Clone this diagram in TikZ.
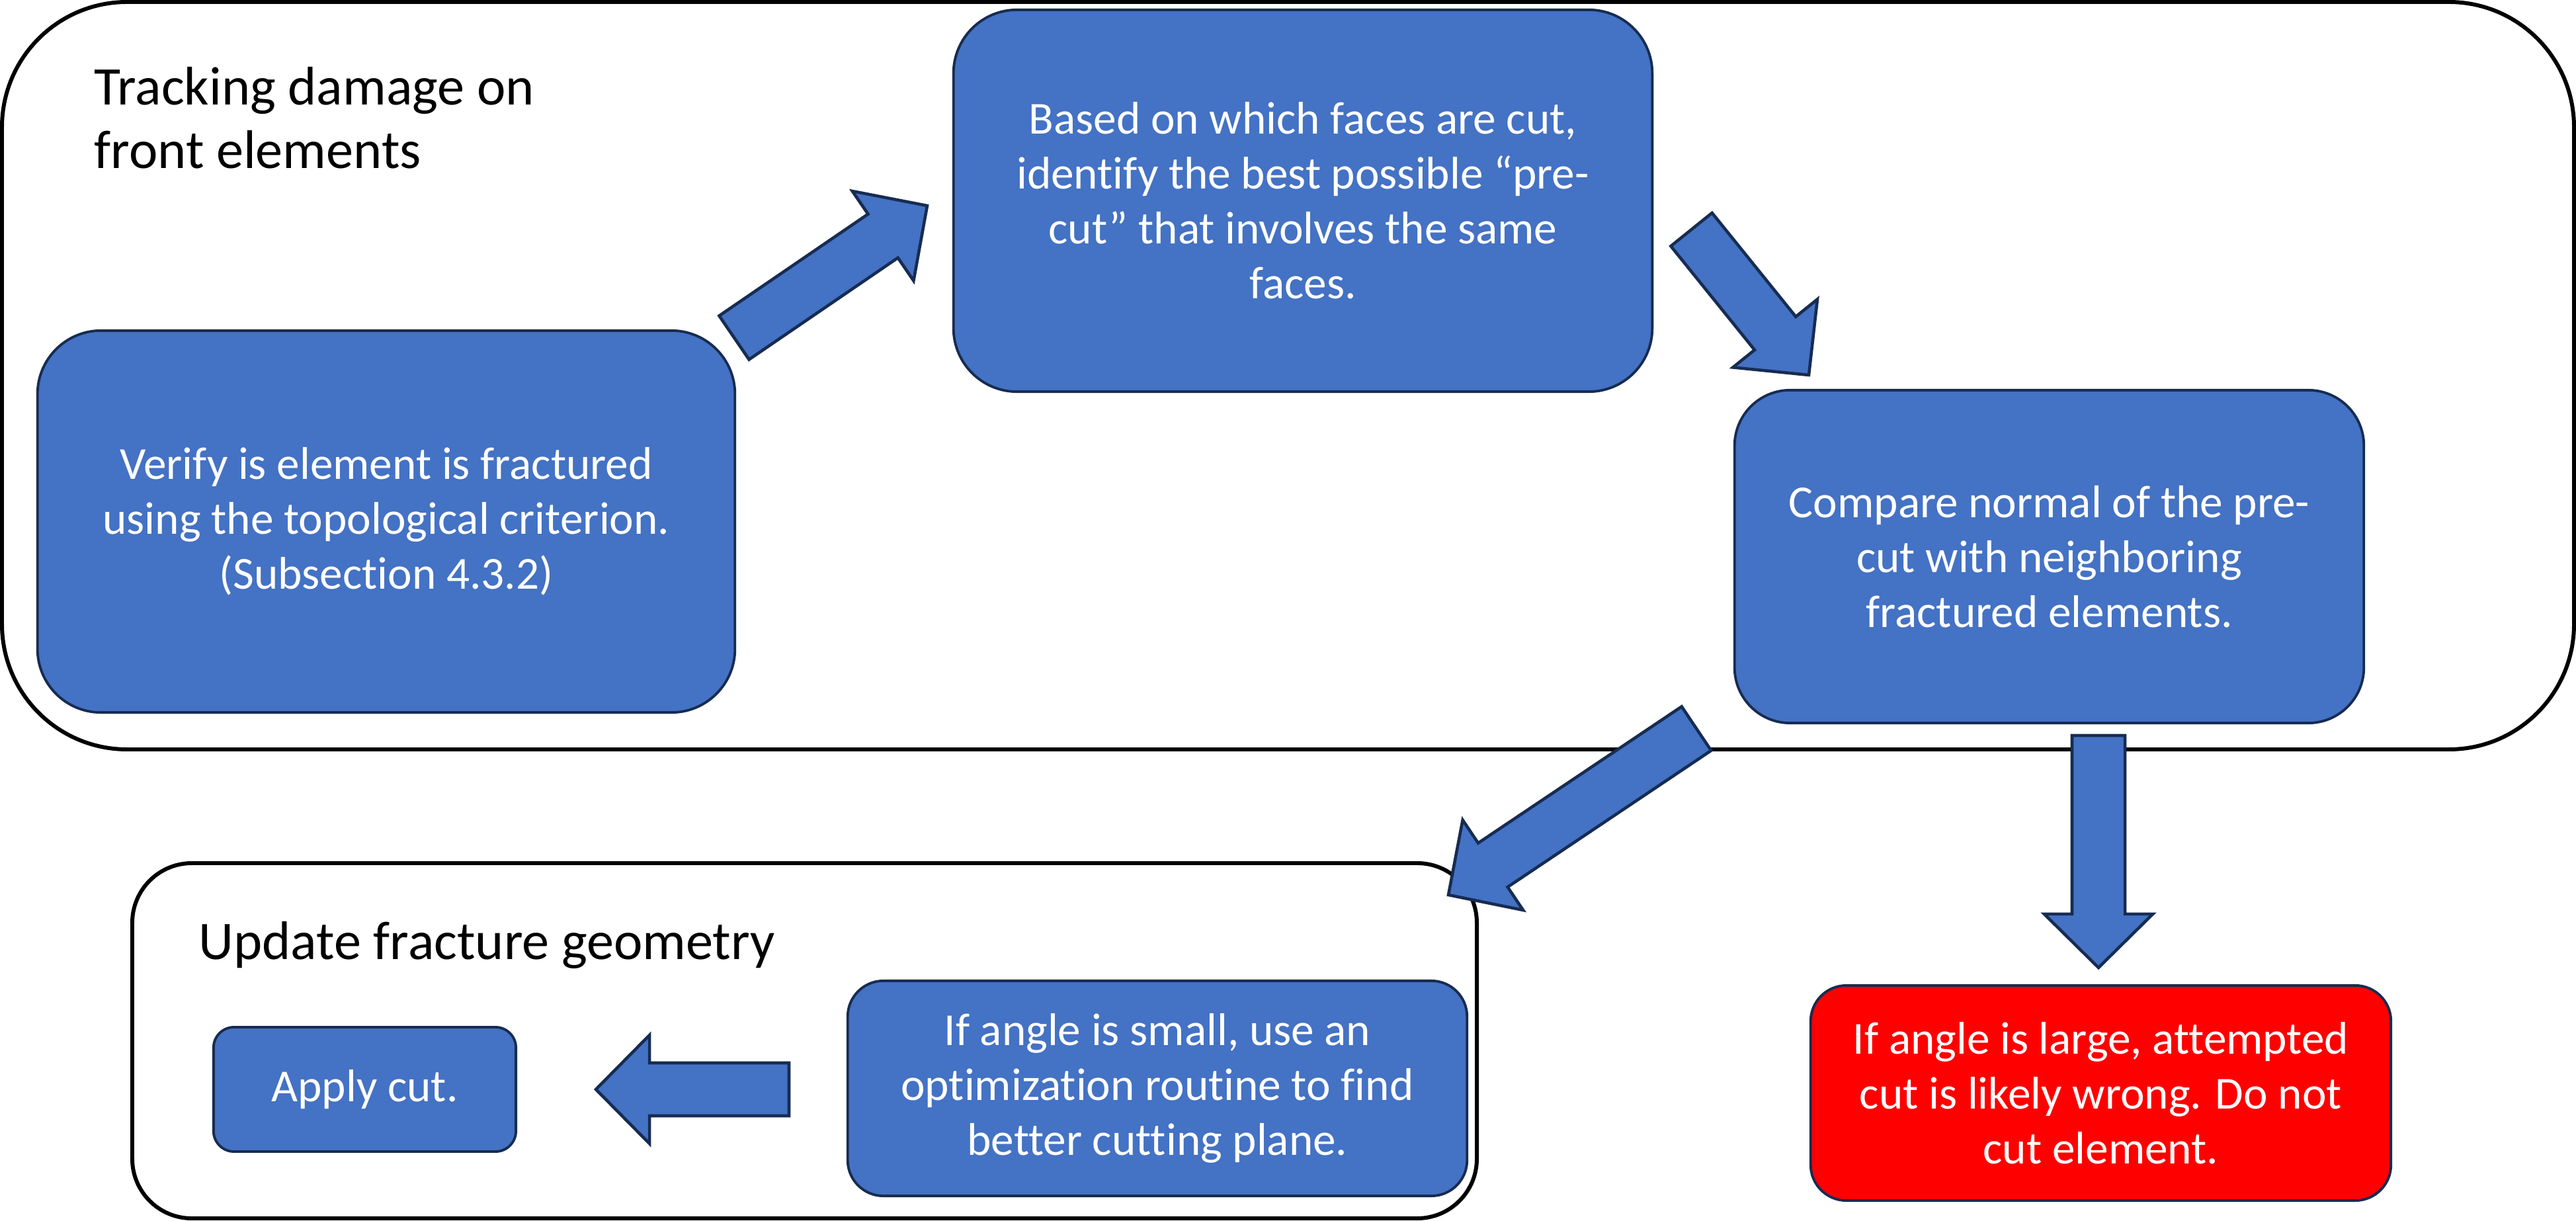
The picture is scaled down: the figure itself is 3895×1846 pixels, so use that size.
\documentclass[tikz,border=0pt]{standalone}
\usepackage{fontspec}
\setmainfont{Carlito}[Ligatures=NoCommon]
\usetikzlibrary{calc}
\definecolor{accblue}{HTML}{4472C4}
\definecolor{navyline}{HTML}{172C51}
\definecolor{redfill}{HTML}{FF0000}
\newcommand\boxfont{\fontsize{19.7pt}{23.6pt}\selectfont}
\newcommand\titlefont{\fontsize{23.4pt}{27.5pt}\selectfont}
% block arrow from tail point #1 to tip point #2
\newcommand\blkarrow[2]{%
  \coordinate (ba) at ($(#2)!0.81cm!(#1)$);
  \draw[blockarrow] ($(#1)!0.4cm!90:(#2)$) -- ($(ba)!0.4cm!90:(#2)$) -- ($(ba)!0.82cm!90:(#2)$) -- (#2)
     -- ($(ba)!0.82cm!-90:(#2)$) -- ($(ba)!0.4cm!-90:(#2)$) -- ($(#1)!0.4cm!-90:(#2)$) -- cycle;}
\tikzset{
  groupbox/.style={draw=black, line width=1.7pt, fill=none},
  stepbox/.style={draw=navyline, fill=accblue, line width=1.1pt, text=white, align=center,
    font=\boxfont, inner sep=0pt},
  redbox/.style={stepbox, fill=redfill},
  titletext/.style={text=black, align=left, font=\titlefont, inner sep=0pt},
  blockarrow/.style={draw=navyline, fill=accblue, line width=1.3pt, line join=miter},
}
\begin{document}
\begin{tikzpicture}[x=0.01cm,y=-0.01cm]
\useasboundingbox (0,0) rectangle (3895,1846);
% group frames
\draw[groupbox, rounded corners=1.89cm] (3,3) rectangle (3892,1133);
\draw[groupbox, rounded corners=0.9cm] (200,1305) rectangle (2233,1842);
\node[titletext, anchor=base west] (t1) at (142,255) {Tracking damage on\\front elements};
\node[titletext, anchor=base west] (t2) at (300,1450) {Update fracture geometry};
% steps
\node[stepbox, minimum width=10.54cm, minimum height=5.77cm, rounded corners=0.96cm] (A) at (584,788.5)
  {Verify is element is fractured\\using the topological criterion.\\(Subsection 4.3.2)};
\node[stepbox, minimum width=10.56cm, minimum height=5.77cm, rounded corners=0.96cm] (B) at (1970,303.5)
  {Based on which faces are cut,\\identify the best possible “pre-\\cut” that involves the same\\faces.};
\node[stepbox, minimum width=9.51cm, minimum height=5.03cm, rounded corners=0.84cm] (C) at (3098.5,841.5)
  {Compare normal of the pre-\\cut with neighboring\\fractured elements.};
\node[stepbox, minimum width=9.36cm, minimum height=3.25cm, rounded corners=0.54cm] (D) at (1750,1645.5)
  {If angle is small, use an\\optimization routine to find\\better cutting plane.};
\node[stepbox, minimum width=4.57cm, minimum height=1.88cm, rounded corners=0.31cm] (E) at (551.5,1647)
  {Apply cut.};
\node[redbox, minimum width=8.77cm, minimum height=3.25cm, rounded corners=0.54cm] (F) at (3176.5,1652.5)
  {If angle is large, attempted\\cut is likely wrong. Do not\\cut element.};
% arrow end points
\coordinate (a1s) at (1110,510.5); \coordinate (a1e) at (1402,311);
\coordinate (a2s) at (2557.5,347); \coordinate (a2e) at (2735,567);
\coordinate (a3s) at (2565,1101.5); \coordinate (a3e) at (2190,1353);
\coordinate (a4s) at (3173,1112);  \coordinate (a4e) at (3173,1463);
\coordinate (a5s) at (1193,1647);  \coordinate (a5e) at (901,1647);
\blkarrow{a1s}{a1e}
\blkarrow{a2s}{a2e}
\blkarrow{a3s}{a3e}
\blkarrow{a4s}{a4e}
\blkarrow{a5s}{a5e}
\end{tikzpicture}
\end{document}
